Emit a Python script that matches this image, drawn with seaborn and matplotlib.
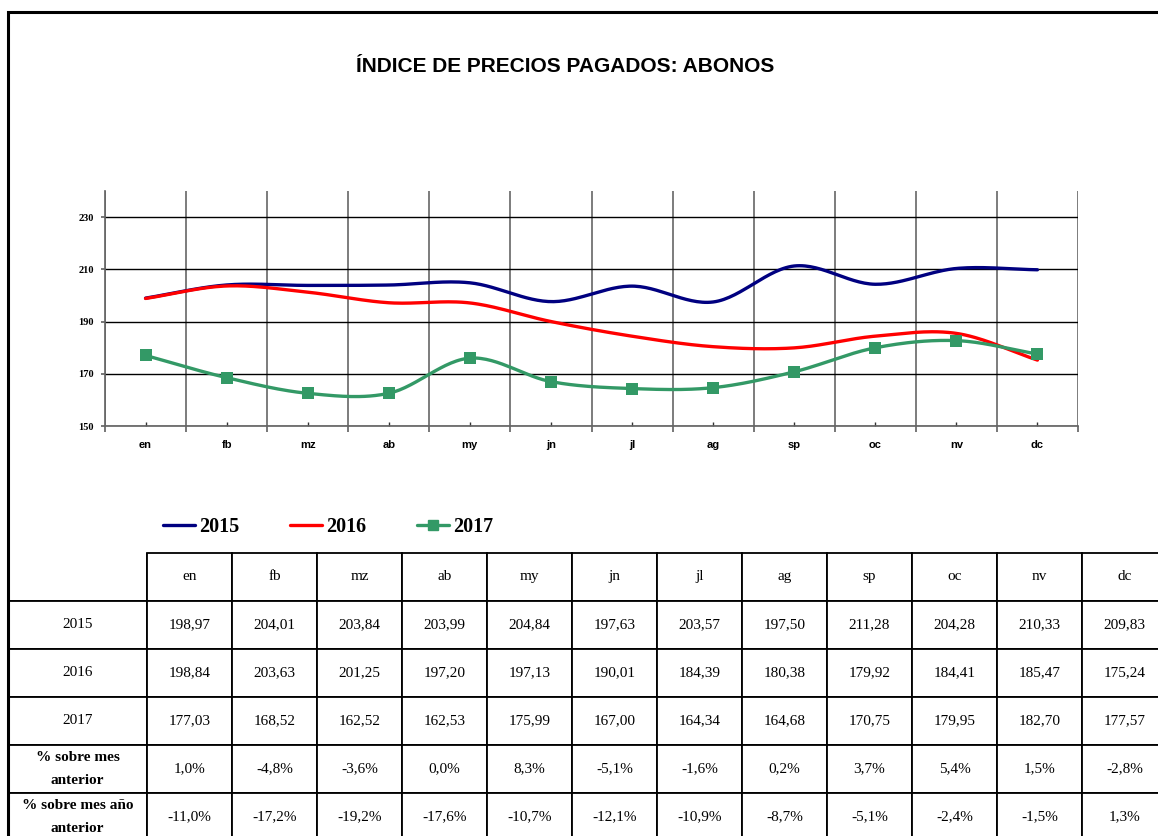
import numpy as np
import pandas as pd
import matplotlib
matplotlib.use('Agg')
import matplotlib.pyplot as plt
from matplotlib.lines import Line2D
from matplotlib.patches import Rectangle
import seaborn as sns

# datos
meses = ['en', 'fb', 'mz', 'ab', 'my', 'jn', 'jl', 'ag', 'sp', 'oc', 'nv', 'dc']
v2015 = [198.97, 204.01, 203.84, 203.99, 204.84, 197.63, 203.57, 197.50, 211.28, 204.28, 210.33, 209.83]
v2016 = [198.84, 203.63, 201.25, 197.20, 197.13, 190.01, 184.39, 180.38, 179.92, 184.41, 185.47, 175.24]
v2017 = [177.03, 168.52, 162.52, 162.53, 175.99, 167.00, 164.34, 164.68, 170.75, 179.95, 182.70, 177.57]
pct_mes = ['1,0%', '-4,8%', '-3,6%', '0,0%', '8,3%', '-5,1%', '-1,6%', '0,2%', '3,7%', '5,4%', '1,5%', '-2,8%']
pct_anio = ['-11,0%', '-17,2%', '-19,2%', '-17,6%', '-10,7%', '-12,1%', '-10,9%', '-8,7%', '-5,1%', '-2,4%', '-1,5%', '1,3%']

colores = {'2015': '#000080', '2016': '#FF0000', '2017': '#339966'}


def suavizar(y, n=30):
    # curva suave tipo Excel (Catmull-Rom) entre los puntos
    y = np.asarray(y, dtype=float)
    m = np.gradient(y)
    xs, ys = [], []
    for i in range(len(y) - 1):
        t = np.linspace(0, 1, n, endpoint=False)
        h00 = 2 * t**3 - 3 * t**2 + 1
        h10 = t**3 - 2 * t**2 + t
        h01 = -2 * t**3 + 3 * t**2
        h11 = t**3 - t**2
        xs.extend(i + t)
        ys.extend(h00 * y[i] + h10 * m[i] + h01 * y[i + 1] + h11 * m[i + 1])
    xs.append(len(y) - 1)
    ys.append(y[-1])
    return np.array(xs), np.array(ys)


sns.set_theme(style='white')
plt.rcParams.update({'text.color': 'black', 'xtick.color': 'black', 'ytick.color': 'black',
                     'axes.labelcolor': 'black'})
W, H = 1158, 836
fig = plt.figure(figsize=(W / 100, H / 100), dpi=100)

# marco
fig.patches.append(Rectangle((8 / W, -0.1), 1.2, 1 - 12 / H + 0.1, transform=fig.transFigure,
                             fill=False, edgecolor='black', linewidth=2.2))

fig.text(565 / W, 1 - 67 / H, 'ÍNDICE DE PRECIOS PAGADOS: ABONOS', ha='center', va='center',
         fontsize=15, fontweight='bold', family='Liberation Sans', color='black')

ax = fig.add_axes([105 / W, 1 - 426 / H, (1078 - 105) / W, (426 - 191) / H])
for serie, vals in [('2015', v2015), ('2016', v2016), ('2017', v2017)]:
    xs, ys = suavizar(vals)
    sns.lineplot(x=xs, y=ys, color=colores[serie], linewidth=2.4, sort=False, ax=ax)
sns.scatterplot(x=np.arange(len(meses)), y=v2017, marker='s', s=75, color=colores['2017'],
                edgecolor=colores['2017'], linewidth=0, zorder=5, ax=ax)

ax.set_xlim(-0.5, len(meses) - 0.5)
ax.set_ylim(150, 240)
ax.set_yticks([150, 170, 190, 210, 230])
ax.set_xticks(np.arange(-0.5, len(meses), 1))
ax.set_xticklabels([])
ax.set_xticks(np.arange(len(meses)), minor=True)
ax.set_xticklabels(meses, minor=True, fontweight='bold', fontsize=8, family='Liberation Sans')
ax.tick_params(axis='x', which='major', bottom=True, direction='out', length=4, color='#666666')
ax.tick_params(axis='x', which='minor', bottom=True, direction='in', length=3, color='#333333', pad=10)
ax.tick_params(axis='y', left=True, direction='out', length=3, color='#666666', pad=5)
for lab in ax.get_yticklabels():
    lab.set_fontweight('bold')
    lab.set_fontsize(7.5)
    lab.set_family('Liberation Serif')
ax.grid(axis='x', which='major', color='#666666', linewidth=1.2)
ax.grid(axis='y', which='major', color='black', linewidth=1.0)
ax.set_axisbelow(True)
sns.despine(ax=ax, top=True, right=True)
ax.spines['left'].set_color('#666666')
ax.spines['bottom'].set_color('#666666')
ax.set_xlabel('')
ax.set_ylabel('')

# leyenda
handles = [Line2D([], [], color=colores['2015'], lw=2.4),
           Line2D([], [], color=colores['2016'], lw=2.4),
           Line2D([], [], color=colores['2017'], lw=2.4, marker='s', markersize=7)]
fig.legend(handles, ['2015', '2016', '2017'], loc='center', ncol=3, frameon=False,
           bbox_to_anchor=(328 / W, 1 - 527 / H), handlelength=1.6, handletextpad=0.2,
           columnspacing=2.5, prop={'family': 'Liberation Serif', 'weight': 'bold', 'size': 14.5})

# tabla
tax = fig.add_axes([8 / W, 1 - 841 / H, (147 + 85 * 12 - 8) / W, (841 - 553) / H])
tax.axis('off')
filas = [[''] + meses,
         ['2015'] + [f'{v:.2f}'.replace('.', ',') for v in v2015],
         ['2016'] + [f'{v:.2f}'.replace('.', ',') for v in v2016],
         ['2017'] + [f'{v:.2f}'.replace('.', ',') for v in v2017],
         ['% sobre mes\nanterior'] + pct_mes,
         ['% sobre mes año\nanterior'] + pct_anio]
anchos = [139] + [85] * 12
tabla = tax.table(cellText=filas, colWidths=[a / sum(anchos) for a in anchos],
                  cellLoc='center', bbox=[0, 0, 1, 1])
tabla.auto_set_font_size(False)
for (r, c), cell in tabla.get_celld().items():
    cell.set_linewidth(1.3)
    cell.set_edgecolor('black')
    txt = cell.get_text()
    txt.set_family('Liberation Serif')
    txt.set_fontsize(11)
    txt.set_color('black')
    if r == 0 and c == 0:
        cell.visible_edges = 'BR'
    elif c == 0:
        cell.visible_edges = 'BRT'
    if r >= 4 and c == 0:
        txt.set_fontweight('bold')
        txt.set_linespacing(2.0)

fig.savefig('out.png', dpi=100)
